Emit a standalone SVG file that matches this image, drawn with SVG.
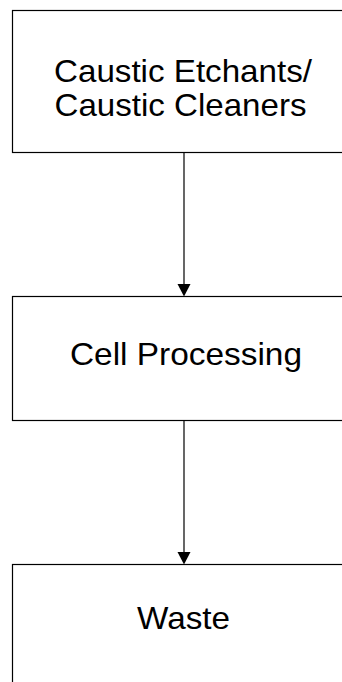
<svg xmlns="http://www.w3.org/2000/svg" width="342" height="682" viewBox="0 0 342 682">
<style>
.box{fill:#fff;stroke:#000;stroke-width:1.2}
.lbl{font-family:"Liberation Sans",Arial,sans-serif;font-size:31.5px;fill:#000;text-anchor:middle}
.conn{stroke:#000;stroke-width:1.2;fill:none}
</style>
<rect width="342" height="682" fill="#fff"/>
<g id="node-caustic">
<rect class="box" x="12.5" y="10.5" width="340" height="142"/>
<text class="lbl" x="183" y="82" textLength="258" lengthAdjust="spacingAndGlyphs">Caustic Etchants/</text>
<text class="lbl" x="180.5" y="116" textLength="252" lengthAdjust="spacingAndGlyphs">Caustic Cleaners</text>
</g>
<g id="node-cell">
<rect class="box" x="12.5" y="296.5" width="340" height="124"/>
<text class="lbl" x="186" y="365" textLength="232" lengthAdjust="spacingAndGlyphs">Cell Processing</text>
</g>
<g id="node-waste">
<rect class="box" x="12.5" y="564.5" width="340" height="130"/>
<text class="lbl" x="183.5" y="628.5" textLength="93" lengthAdjust="spacingAndGlyphs">Waste</text>
</g>
<g id="connectors">
<line class="conn" x1="184" y1="152.5" x2="184" y2="285"/>
<polygon points="177.5,284 190.5,284 184,296.5" fill="#000"/>
<line class="conn" x1="184" y1="420.5" x2="184" y2="553"/>
<polygon points="177.5,552 190.5,552 184,564.5" fill="#000"/>
</g>
</svg>
